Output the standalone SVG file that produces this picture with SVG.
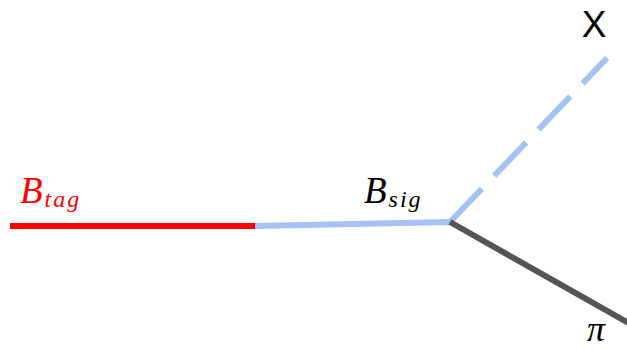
<svg xmlns="http://www.w3.org/2000/svg" width="627" height="350" viewBox="0 0 627 350">
<style>
.lbl{font-family:"Liberation Serif","Times New Roman",serif;font-style:italic}
.sub{font-size:24px;letter-spacing:2px}
.line{fill:none;stroke-width:6}
</style>
<rect width="627" height="350" fill="#ffffff"/>
<g id="connectors">
<line class="line" x1="10" y1="226" x2="256" y2="226" stroke="#ff0000"/>
<line class="line" x1="255" y1="226" x2="450" y2="222" stroke="#a4c2f4"/>
<line class="line" x1="450" y1="222" x2="607" y2="58" stroke="#a4c2f4" stroke-dasharray="46 18"/>
<line class="line" x1="450" y1="222" x2="632" y2="325" stroke="#555555"/>
</g>
<g id="B_tag"><text class="lbl" x="20" y="203" font-size="37" fill="#ff0000">B<tspan class="sub" dx="2" dy="4">tag</tspan></text></g>
<g id="B_sig"><text class="lbl" x="364" y="203" font-size="37" fill="#000">B<tspan class="sub" dx="2" dy="4">sig</tspan></text></g>
<g id="X"><text x="594" y="37" font-size="37" text-anchor="middle" font-family="Liberation Sans, Arial, sans-serif" fill="#000">X</text></g>
<g id="pi"><text class="lbl" x="587" y="341" font-size="36" fill="#000">π</text></g>
</svg>
